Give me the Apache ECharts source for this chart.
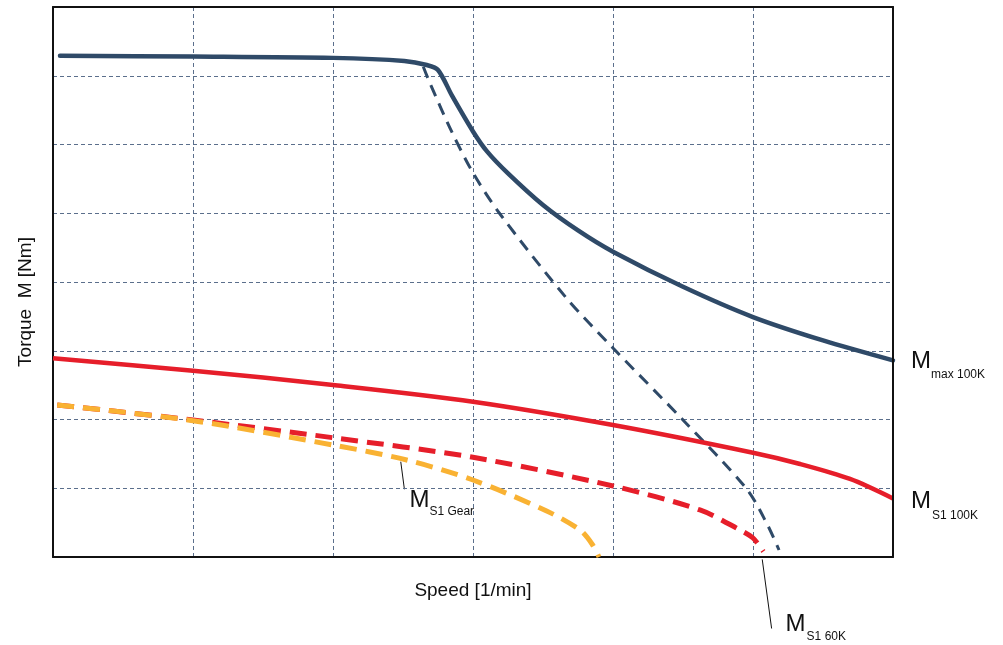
<!DOCTYPE html>
<html>
<head>
<meta charset="utf-8">
<script src="https://cdn.jsdelivr.net/npm/echarts@6/dist/echarts.min.js"></script>
<style>html,body{margin:0;padding:0;background:#fff}#c{width:1003px;height:645px}</style>
</head>
<body>
<div id="c"></div>
<script>
// Axis ranges (no tick labels shown in the reference)
const xTicks = [0, 1, 2, 3, 4, 5, 6];
const yTicks = [0, 1, 2, 3, 4, 5, 6, 7, 8];

// Series values [speed, torque] in grid units
const mMax100K = [[0.05,7.29],[1.0,7.28],[2.0,7.26],[2.51,7.215],[2.67,7.156],[2.75,7.084],[2.85,6.71],[3.0,6.19],[3.1,5.9],[3.25,5.58],[3.5,5.12],[3.75,4.75],[4.0,4.44],[4.5,3.93],[5.0,3.49],[5.5,3.15],[6.0,2.86]];
const mMax60K = [[2.645,7.132],[2.693,6.89],[2.848,6.186],[3.002,5.581],[3.193,4.989],[3.669,3.763],[4.0,3.04],[4.5,1.993],[4.955,0.989],[5.098,0.49],[5.186,0.102]];
const mS1100K = [[0.0,2.89],[1.0,2.71],[2.0,2.502],[3.0,2.259],[4.0,1.92],[5.0,1.517],[5.336,1.353],[5.693,1.135],[6.0,0.851]];
const mS160K = [[0.03,2.211],[1.0,1.993],[2.0,1.735],[3.0,1.45],[4.0,1.033],[4.621,0.684],[4.907,0.393],[5.0,0.276],[5.074,0.08]];
const mS1Gear = [[0.03,2.211],[1.0,1.983],[2.0,1.629],[2.526,1.411],[3.0,1.12],[3.526,0.669],[3.764,0.393],[3.85,0.19],[3.9,0.0]];

const navy = '#2f4a68', red = '#e61e2a', orange = '#f9b233';
const chart = echarts.init(document.getElementById('c'));
const gridLine = {show: true, lineStyle: {color: '#5b6f8c', type: [4, 3], width: 1}};
const frameLine = {show: true, onZero: false, lineStyle: {color: '#111', width: 2}};
const nameStyle = {fontFamily: 'Liberation Sans', fontSize: 19, color: '#111'};

chart.setOption({
  animation: false,
  backgroundColor: '#fff',
  grid: {left: 53, right: 110, top: 7, bottom: 88},
  xAxis: [{
    type: 'value', min: xTicks[0], max: xTicks[xTicks.length - 1], interval: 1,
    name: 'Speed [1/min]', nameLocation: 'middle', nameGap: 24, nameTextStyle: nameStyle,
    axisLine: frameLine, axisTick: {show: false}, axisLabel: {show: false}, splitLine: gridLine, z: 1
  }, {
    type: 'value', position: 'top', min: xTicks[0], max: xTicks[xTicks.length - 1], interval: 1,
    axisLine: frameLine, axisTick: {show: false}, axisLabel: {show: false}, splitLine: {show: false}, z: 5
  }],
  yAxis: [{
    type: 'value', min: yTicks[0], max: yTicks[yTicks.length - 1], interval: 1,
    name: 'Torque  M [Nm]', nameLocation: 'middle', nameGap: 18,
    nameTextStyle: Object.assign({padding: [0, 40, 0, 0]}, nameStyle),
    axisLine: frameLine, axisTick: {show: false}, axisLabel: {show: false}, splitLine: gridLine, z: 1
  }, {
    type: 'value', position: 'right', min: yTicks[0], max: yTicks[yTicks.length - 1], interval: 1,
    axisLine: frameLine, axisTick: {show: false}, axisLabel: {show: false}, splitLine: {show: false}, z: 5
  }],
  series: [
    {type: 'line', data: mMax60K, smooth: 0.3, symbol: 'none', lineStyle: {color: navy, width: 3, type: [12, 8]}},
    {type: 'line', data: mMax100K, smooth: 0.3, symbol: 'none', lineStyle: {color: navy, width: 4.5, cap: 'round'}},
    {type: 'line', data: mS1100K, smooth: 0.3, symbol: 'none', lineStyle: {color: red, width: 4.5}},
    {type: 'line', data: mS160K, smooth: 0.3, symbol: 'none', lineStyle: {color: red, width: 5, type: [17, 9]}},
    {type: 'line', data: mS1Gear, smooth: 0.3, symbol: 'none', lineStyle: {color: orange, width: 5, type: [17, 9]}}
  ]
});

// Annotation labels anchored to data coordinates
function px(p) { return chart.convertToPixel({xAxisIndex: 0, yAxisIndex: 0}, p); }
function label(anchor, dx, dy, sub, subDx, subDy) {
  const a = px(anchor);
  return [
    {type: 'text', x: a[0] + dx, y: a[1] + dy, style: {text: 'M', fontFamily: 'Liberation Sans', fontSize: 24, fill: '#111', verticalAlign: 'middle', align: 'left'}},
    {type: 'text', x: a[0] + dx + subDx, y: a[1] + dy + subDy, style: {text: sub, fontFamily: 'Liberation Sans', fontSize: 12, fill: '#111', verticalAlign: 'middle', align: 'left'}}
  ];
}
const endMax = mMax100K[mMax100K.length - 1];
const endS1 = mS1100K[mS1100K.length - 1];
const gearA = px([2.484, 1.386]), gearB = px([2.51, 0.985]);
const k60A = px([5.066, -0.035]), k60B = px([5.133, -1.04]);
const g = [];
g.push(...label(endMax, 18, 1, 'max 100K', 20, 13));
g.push(...label(endS1, 18, 3, 'S1 100K', 21, 14));
g.push(...label([2.51, 0.985], 5, 11, 'S1 Gear', 20, 11));
g.push(...label([5.133, -1.04], 14, -4, 'S1 60K', 21, 12));
g.push({type: 'line', shape: {x1: gearA[0], y1: gearA[1], x2: gearB[0], y2: gearB[1]}, style: {stroke: '#111', lineWidth: 1}});
g.push({type: 'line', shape: {x1: k60A[0], y1: k60A[1], x2: k60B[0], y2: k60B[1]}, style: {stroke: '#111', lineWidth: 1}});
chart.setOption({graphic: g});
</script>
</body>
</html>
